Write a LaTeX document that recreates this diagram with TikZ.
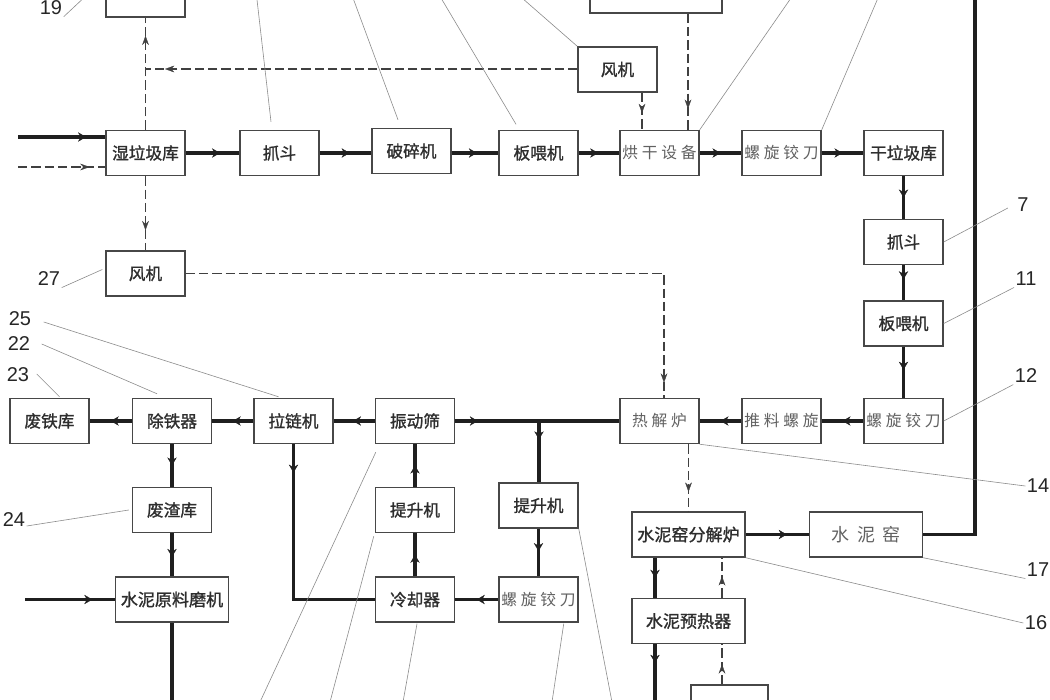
\documentclass[tikz,border=0pt]{standalone}
\usepackage{fontspec}
\setmainfont{Liberation Sans}
\newfontfamily\cjk{Noto Sans CJK SC}
\newfontfamily\cjkm{Noto Sans CJK SC}[FakeBold=1.2]
\usetikzlibrary{arrows.meta,decorations.markings,calc}
\newcommand\sg{\hspace{2.8pt}}
\tikzset{
  box/.style={draw=black!72, line width=1.1pt, fill=white, minimum width=59.25pt,
    minimum height=33.75pt, inner sep=0pt, text=black!82,
    font=\cjkm\fontsize{12.5pt}{14pt}\selectfont},
  wbox/.style={box, minimum width=84.75pt, font=\cjkm\fontsize{12.8pt}{14pt}\selectfont},
  lt/.style={text=black!62, font=\cjk\fontsize{11.8pt}{14pt}\selectfont},
  flow/.style={draw=black!88, line width=2.4pt},
  gas/.style={draw=black!75, line width=1.1pt, dash pattern=on 7pt off 3pt},
  lead/.style={draw=black!45, line width=0.45pt},
  num/.style={font=\fontsize{15pt}{15pt}\selectfont, text=black!85, inner sep=1pt},
  mk/.style={postaction={decorate}, decoration={markings, mark=at position #1 with
    {\arrow{Stealth[length=6pt,width=7pt,line width=0.2pt]}}}},
  mkg/.style={postaction={decorate}, decoration={markings, mark=at position #1 with
    {\arrow{Stealth[length=7pt,width=5pt,line width=0.2pt]}}}},
}
\begin{document}
\begin{tikzpicture}[x=0.75pt,y=-0.75pt]
\useasboundingbox (0,0) rectangle (1050,700);
\fill[white] (0,0) rectangle (1050,700);
\clip (0,0) rectangle (1050,700);

% ---------- boxes ----------
\node[box] (bx19) at (145.5,-5.5) {};
\node[box,minimum width=99pt] (topbox) at (656,-9.5) {};
\node[box] (wet) at (145.5,153) {湿垃圾库};
\node[box] (grab1) at (279.5,153) {抓斗};
\node[box] (crush) at (411.5,151) {破碎机};
\node[box] (feed1) at (538.5,153) {板喂机};
\node[box,lt] (dryer) at (659.5,153) {烘\sg 干\sg 设\sg 备};
\node[box,lt] (screw1) at (781.5,153) {螺\sg 旋\sg 铰\sg 刀};
\node[box] (drystore) at (903.5,153) {干垃圾库};
\node[box] (fan1) at (617.5,69.5) {风机};
\node[box] (grab2) at (903.5,242) {抓斗};
\node[box] (feed2) at (903.5,323.5) {板喂机};
\node[box,lt] (screw2) at (903.5,421) {螺\sg 旋\sg 铰\sg 刀};
\node[box,lt] (push) at (781.5,421) {推\sg 料\sg 螺\sg 旋};
\node[box,lt] (pyro) at (659.5,421) {热\sg 解\sg 炉};
\node[box] (fan2) at (145.5,273.5) {风机};
\node[box] (scrap) at (49.5,421) {废铁库};
\node[box] (deiron) at (172,421) {除铁器};
\node[box] (chain) at (293.5,421) {拉链机};
\node[box] (screen) at (415,421) {振动筛};
\node[box] (slag) at (172,510) {废渣库};
\node[wbox] (mill) at (172,599.5) {水泥原料磨机};
\node[box] (lift1) at (415,510) {提升机};
\node[box] (cooler) at (415,599.5) {冷却器};
\node[box] (lift2) at (538.5,505.5) {提升机};
\node[box,lt] (screw3) at (538.5,599.5) {螺\sg 旋\sg 铰\sg 刀};
\node[wbox] (calciner) at (688.5,534.5) {水泥窑分解炉};
\node[wbox] (pre) at (688.5,621) {水泥预热器};
\node[box,minimum width=57.75pt] (botbox) at (729.5,707.5) {};
\node[wbox,lt,font=\cjk\fontsize{13.5pt}{14pt}\selectfont] (kiln) at (866,534.5) {水\hspace{6pt}泥\hspace{6pt}窑};

% ---------- helper coordinates ----------
\coordinate (in1) at (18,137);
\coordinate (in2) at (18,167);
\coordinate (in3) at (25,599.5);
\coordinate (j1) at (145.5,69);
\coordinate (d1) at ($(dryer.north)+(-17.5,0)$);
\coordinate (d2) at ($(dryer.north)+(28.5,0)$);
\coordinate (jn) at (539,421);
\coordinate (c3) at ($(calciner.south)+(-33.5,0)$);
\coordinate (c4) at ($(calciner.south)+(33.5,0)$);
\coordinate (bot1) at (655,706);
\coordinate (bot2) at (172,706);
\coordinate (topr) at (975,-5);

% ---------- material (solid) ----------
\draw[flow,mk=0.78] (in1) -- (in1 -| wet.west);
\draw[flow,mk=0.64] (wet) -- (grab1);
\draw[flow,mk=0.58] (grab1.east) -- (grab1.east -| crush.west);
\draw[flow,mk=0.54] (crush.east |- feed1.west) -- (feed1.west);
\draw[flow,mk=0.48] (feed1) -- (dryer);
\draw[flow,mk=0.5] (dryer) -- (screw1);
\draw[flow,mk=0.5] (screw1) -- (drystore);
\draw[flow,mk=0.5] (drystore) -- (grab2);
\draw[flow,mk=0.4] (grab2) -- (feed2);
\draw[flow,mk=0.45] (feed2) -- (screw2);
\draw[flow,mk=0.5] (screw2) -- (push);
\draw[flow,mk=0.5] (push) -- (pyro);
\draw[flow] (pyro.west) -- (jn);
\draw[flow,mk=0.27] (screen.east) -- (jn);
\draw[flow,mk=0.3] (jn) -- (jn |- lift2.north);
\draw[flow,mk=0.47] (lift2) -- (screw3);
\draw[flow,mk=0.5] (screw3) -- (cooler);
\draw[flow,mk=0.5] (cooler) -- (lift1);
\draw[flow,mk=0.5] (lift1) -- (screen);
\draw[flow,mk=0.53] (screen) -- (chain);
\draw[flow,mk=0.12] (chain.south) |- (cooler.west);
\draw[flow,mk=0.5] (chain) -- (deiron);
\draw[flow,mk=0.5] (deiron) -- (scrap);
\draw[flow,mk=0.5] (deiron) -- (slag);
\draw[flow,mk=0.55] (slag) -- (mill);
\draw[flow,mk=0.75] (in3) -- (mill.west);
\draw[flow] (mill.south) -- (bot2);
\draw[flow,mk=0.65] (calciner) -- (kiln);
\draw[flow] (kiln.east) -| (topr);
\draw[flow,mk=0.5] (c3) -- (c3 |- pre.north);
\draw[flow,mk=0.3] (pre.south -| bot1) -- (bot1);

% ---------- gas (dashed) ----------
\draw[gas,mkg=0.82] (in2) -- (in2 -| wet.west);
\draw[gas,mkg=0.84] (wet.north) -- (bx19.south);
\draw[gas,mkg=0.955] (fan1.west |- j1) -- (j1);
\draw[gas,mkg=0.55] (d1 |- fan1.south) -- (d1);
\draw[gas,mkg=0.82] (d2 |- topbox.south) -- (d2);
\draw[gas,mkg=0.73] (wet.south) -- (fan2.north);
\draw[gas,mkg=0.975] (fan2.east) -| ($(pyro.north)+(4.5,0)$);
\draw[gas,mkg=0.71] (pyro.south -| calciner.north) -- (calciner.north);
\draw[gas,mkg=0.54] (c4 |- pre.north) -- (c4);
\draw[gas,mkg=0.5] (c4 |- botbox.north) -- (c4 |- pre.south);

% ---------- reference numbers ----------
\node[num] (n19) at (51,8) {19};
\node[num] (n7) at (1023,205) {7};
\node[num] (n11) at (1026,279) {11};
\node[num] (n12) at (1026,376) {12};
\node[num] (n14) at (1038,486) {14};
\node[num] (n17) at (1038,570) {17};
\node[num] (n16) at (1036,623) {16};
\node[num] (n27) at (49,279) {27};
\node[num] (n25) at (20,319) {25};
\node[num] (n22) at (19,344) {22};
\node[num] (n23) at (18,375) {23};
\node[num] (n24) at (14,520) {24};

% ---------- leader lines ----------
\draw[lead] (n19.south east) -- ($(bx19.north west)+(-8,14)$);
\draw[lead] ($(n7.west)+(-8,3)$) -- (grab2.east);
\draw[lead] (n11.south west) -- (feed2.east);
\draw[lead] (n12.south west) -- (screw2.east);
\draw[lead] (n14.west) -- (pyro.south east);
\draw[lead] (n17.south west) -- (kiln.south east);
\draw[lead] (n16.west) -- (calciner.south east);
\draw[lead] (n27.south east) -- ($(fan2.west)+(-3,-4)$);
\draw[lead] ($(n25.east)+(11,3)$) -- ($(chain.north)+(-15,-1)$);
\draw[lead] ($(n22.east)+(10,0)$) -- ($(deiron.north)+(-15,-4)$);
\draw[lead] ($(n23.east)+(6,-1)$) -- ($(scrap.north)+(10,-1)$);
\draw[lead] ($(n24.east)+(0,6)$) -- ($(slag.west)+(-3,0)$);
% leaders to numbers outside the view
\draw[lead] ($(grab1.north)+(-8.5,-8)$) -- (256.8,-2);
\draw[lead] ($(crush.north)+(-13.5,-8)$) -- (353,-2);
\draw[lead] ($(feed1.north)+(-22.5,-5.5)$) -- (441,-2);
\draw[lead] (fan1.north west) -- (522,-2);
\draw[lead] (dryer.north east) -- (791,-2);
\draw[lead] (screw1.north east) -- (878,-2);
\draw[lead] ($(screen.south west)+(1,8)$) -- (260,702);
\draw[lead] ($(lift1.south west)+(-1,3)$) -- (330,702);
\draw[lead] ($(cooler.south)+(2,1)$) -- (403,702);
\draw[lead] ($(screw3.south east)+(-15,1)$) -- (552,702);
\draw[lead] (lift2.south east) -- (612,702);
\end{tikzpicture}
\end{document}
